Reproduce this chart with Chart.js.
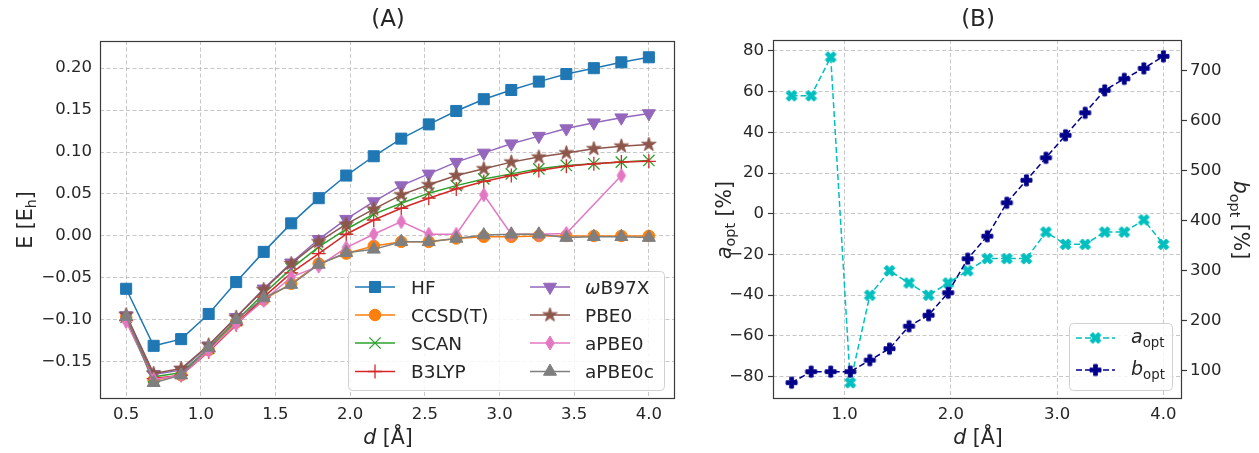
<!DOCTYPE html>
<html><head><meta charset="utf-8">
<script src="https://cdn.jsdelivr.net/npm/chart.js@4/dist/chart.umd.min.js"></script>
<style>
html,body{margin:0;padding:0;background:#fff;}
#wrap{position:relative;width:1259px;height:453px;background:#fff;}
#c1{position:absolute;left:0;top:0;}
#c2{position:absolute;left:700px;top:0;}
</style></head><body>
<div id="wrap"><canvas id="c1" width="700" height="453"></canvas><canvas id="c2" width="559" height="453"></canvas></div>
<script>
// ---------------- data ----------------
const distances = [0.5, 0.6842, 0.8684, 1.0526, 1.2368, 1.4211, 1.6053, 1.7895, 1.9737, 2.1579, 2.3421, 2.5263, 2.7105, 2.8947, 3.0789, 3.2632, 3.4474, 3.6316, 3.8158, 4.0];
const methodNames = ['HF', 'CCSD(T)', 'SCAN', 'B3LYP', 'ωB97X', 'PBE0', 'aPBE0', 'aPBE0c'];
const energyHF     = [-0.063, -0.131, -0.123, -0.093, -0.055, -0.019, 0.015, 0.045, 0.072, 0.095, 0.116, 0.133, 0.149, 0.163, 0.174, 0.184, 0.193, 0.200, 0.207, 0.213];
const energyCCSDT  = [-0.097, -0.172, -0.166, -0.136, -0.103, -0.076, -0.057, -0.033, -0.021, -0.012, -0.007, -0.007, -0.003, -0.001, -0.001, 0.000, 0.000, 0.000, 0.000, 0.000];
const energySCAN   = [-0.097, -0.168, -0.163, -0.134, -0.101, -0.069, -0.039, -0.013, 0.008, 0.026, 0.039, 0.051, 0.060, 0.068, 0.074, 0.080, 0.084, 0.086, 0.088, 0.090];
const energyB3LYP  = [-0.101, -0.170, -0.166, -0.138, -0.106, -0.073, -0.044, -0.021, 0.002, 0.019, 0.033, 0.045, 0.056, 0.065, 0.072, 0.078, 0.083, 0.086, 0.088, 0.089];
const energyWB97X  = [-0.095, -0.165, -0.160, -0.131, -0.097, -0.063, -0.032, -0.004, 0.020, 0.041, 0.060, 0.074, 0.088, 0.099, 0.110, 0.119, 0.128, 0.135, 0.141, 0.146];
const energyPBE0   = [-0.094, -0.164, -0.158, -0.130, -0.097, -0.064, -0.033, -0.007, 0.014, 0.032, 0.049, 0.061, 0.072, 0.080, 0.088, 0.094, 0.099, 0.104, 0.107, 0.109];
const energyAPBE0  = [-0.102, -0.171, -0.166, -0.137, -0.105, -0.077, -0.049, -0.036, -0.014, 0.002, 0.017, 0.002, 0.002, 0.049, 0.002, 0.002, 0.003, null, 0.072, null];
const energyAPBE0c = [-0.096, -0.175, -0.166, -0.133, -0.100, -0.074, -0.058, -0.034, -0.020, -0.016, -0.007, -0.007, -0.003, 0.001, 0.002, 0.002, -0.002, -0.001, -0.001, -0.002];
const aOpt = [58, 58, 77, -83, -40, -28, -34, -40, -34, -28, -22, -22, -22, -9, -15, -15, -9, -9, -3, -15];
const bOpt = [76, 98, 98, 98, 121, 144, 189, 211, 256, 324, 369, 436, 481, 526, 571, 616, 661, 684, 705, 729];

const xTicksA = [0.5, 1.0, 1.5, 2.0, 2.5, 3.0, 3.5, 4.0];
const xLabelsA = ['0.5', '1.0', '1.5', '2.0', '2.5', '3.0', '3.5', '4.0'];
const yTicksA = [-0.15, -0.10, -0.05, 0.00, 0.05, 0.10, 0.15, 0.20];
const yLabelsA = ['\u22120.15', '\u22120.10', '\u22120.05', '0.00', '0.05', '0.10', '0.15', '0.20'];
const xTicksB = [1.0, 2.0, 3.0, 4.0];
const xLabelsB = ['1.0', '2.0', '3.0', '4.0'];
const aTicks = [-80, -60, -40, -20, 0, 20, 40, 60, 80];
const aLabels = ['\u221280', '\u221260', '\u221240', '\u221220', '0', '20', '40', '60', '80'];
const bTicks = [100, 200, 300, 400, 500, 600, 700];
const bLabels = ['100', '200', '300', '400', '500', '600', '700'];

// ---------------- styles ----------------
const FONT = '"DejaVu Sans", sans-serif';
const TXT = '#262626';
const SPINE = '#3a3a3a';
const GRID = 'rgba(180,180,180,0.75)';
const colors = ['#1f77b4', '#ff7f0e', '#2ca02c', '#d62728', '#9467bd', '#8c564b', '#e377c2', '#7f7f7f'];
const cA = '#00bfbf', cB = '#00008b';

function mkCanvas(size) { const c = document.createElement('canvas'); c.width = size; c.height = size; return c; }
function polyImg(pts, scale, color) {
  const s = Math.ceil(scale + 4); const c = mkCanvas(s); const g = c.getContext('2d');
  g.translate(s / 2, s / 2); g.beginPath();
  pts.forEach((p, i) => { const x = p[0] * scale, y = p[1] * scale; i ? g.lineTo(x, y) : g.moveTo(x, y); });
  g.closePath(); g.fillStyle = color; g.fill(); g.strokeStyle = color; g.lineWidth = 1; g.lineJoin = 'miter'; g.stroke();
  return c;
}
function starPts() { const p = []; for (let i = 0; i < 10; i++) { const r = i % 2 ? 0.5 * 0.381966 : 0.5; const a = -Math.PI / 2 + i * Math.PI / 5; p.push([r * Math.cos(a), r * Math.sin(a)]); } return p; }
const starImg = polyImg(starPts(), 15, colors[5]);
const diamondImg = polyImg([[0, -0.5], [0.3, 0], [0, 0.5], [-0.3, 0]], 14, colors[6]);
const xFilled = [[-1, -2], [0, -1], [1, -2], [2, -1], [1, 0], [2, 1], [1, 2], [0, 1], [-1, 2], [-2, 1], [-1, 0], [-2, -1]].map(p => [p[0] / 4, p[1] / 4]);
const pFilled = [[-1, -3], [1, -3], [1, -1], [3, -1], [3, 1], [1, 1], [1, 3], [-1, 3], [-1, 1], [-3, 1], [-3, -1], [-1, -1]].map(p => [p[0] / 6, p[1] / 6]);
const xImg = polyImg(xFilled, 11, cA);
const pImg = polyImg(pFilled, 11, cB);

const markers = [
  {pointStyle: 'rect', radius: 7.8, rotation: 0, borderWidth: 1},
  {pointStyle: 'circle', radius: 5.8, rotation: 0, borderWidth: 1},
  {pointStyle: 'crossRot', radius: 8, rotation: 0, borderWidth: 1.3},
  {pointStyle: 'cross', radius: 7, rotation: 0, borderWidth: 1.3},
  {pointStyle: 'triangle', radius: 7.5, rotation: 180, borderWidth: 1},
  {pointStyle: starImg, radius: 7, rotation: 0, borderWidth: 0},
  {pointStyle: diamondImg, radius: 7, rotation: 0, borderWidth: 0},
  {pointStyle: 'triangle', radius: 7.5, rotation: 0, borderWidth: 1}
];
const energySeries = [energyHF, energyCCSDT, energySCAN, energyB3LYP, energyWB97X, energyPBE0, energyAPBE0, energyAPBE0c];

// rich text helper
function richText(ctx, parts, x, y, rot, size, align) {
  ctx.save(); ctx.translate(x, y); ctx.rotate(rot);
  let w = 0;
  const info = parts.map(p => {
    const fs = p.sub ? size * 0.7 : size;
    const f = (p.it ? 'italic ' : '') + fs + 'px ' + FONT;
    ctx.font = f; const mw = ctx.measureText(p.t).width; w += mw; return {f, mw};
  });
  let cx = align === 'left' ? 0 : -w / 2;
  ctx.fillStyle = TXT; ctx.textBaseline = 'alphabetic'; ctx.textAlign = 'left';
  const base = size * 0.36;
  parts.forEach((p, i) => { ctx.font = info[i].f; ctx.fillText(p.t, cx, base + (p.sub ? size * 0.2 : 0)); cx += info[i].mw; });
  ctx.restore();
}

function setTicks(vals) { return function (scale) { scale.ticks = vals.map(v => ({value: v})); }; }

const framePlugin = {
  id: 'frame',
  afterDraw(chart, args, opts) {
    const ctx = chart.ctx; const a = chart.chartArea;
    ctx.save(); ctx.strokeStyle = SPINE; ctx.lineWidth = 1.2;
    ctx.strokeRect(Math.round(a.left) + 0.5, Math.round(a.top) + 0.5, Math.round(a.right - a.left) - 1, Math.round(a.bottom - a.top) - 1);
    ctx.restore();
    if (opts.draw) opts.draw(ctx, chart);
  }
};

function drawLegendBox(ctx, x0, y0, x1, y1) {
  ctx.save();
  ctx.beginPath();
  if (ctx.roundRect) ctx.roundRect(x0 + 0.5, y0 + 0.5, x1 - x0, y1 - y0, 4); else ctx.rect(x0 + 0.5, y0 + 0.5, x1 - x0, y1 - y0);
  ctx.fillStyle = 'rgba(255,255,255,0.85)'; ctx.fill();
  ctx.strokeStyle = '#d0d0d0'; ctx.lineWidth = 1; ctx.stroke();
  ctx.restore();
}
function drawSample(ctx, color, mk, xl, xr, y, dash) {
  ctx.save();
  ctx.strokeStyle = color; ctx.lineWidth = 1.5; if (dash) ctx.setLineDash(dash);
  ctx.beginPath(); ctx.moveTo(xl, y); ctx.lineTo(xr, y); ctx.stroke();
  ctx.setLineDash([]);
  ctx.fillStyle = color; ctx.strokeStyle = color; ctx.lineWidth = mk.borderWidth || 1;
  Chart.helpers.drawPoint(ctx, mk, (xl + xr) / 2, y);
  ctx.restore();
}

// ---------------- chart A ----------------
const datasetsA = energySeries.map((vals, i) => ({
  label: methodNames[i],
  data: distances.map((d, k) => ({x: d, y: vals[k]})),
  borderColor: colors[i], backgroundColor: colors[i],
  pointBackgroundColor: colors[i], pointBorderColor: colors[i],
  borderWidth: 1.5,
  pointStyle: markers[i].pointStyle, pointRadius: markers[i].radius,
  pointRotation: markers[i].rotation, pointBorderWidth: markers[i].borderWidth,
  tension: 0, spanGaps: true, order: energySeries.length - i
}));

new Chart(document.getElementById('c1'), {
  type: 'line',
  data: {datasets: datasetsA},
  options: {
    responsive: false, animation: false, devicePixelRatio: 1, events: [],
    layout: {padding: {left: 0, right: 25, top: 41, bottom: 0}},
    plugins: {
      legend: {display: false}, tooltip: {enabled: false}, title: {display: false},
      frame: {
        draw(ctx, chart) {
          richText(ctx, [{t: '(A)'}], 388, 18, 0, 23);
          richText(ctx, [{t: 'E [E'}, {t: 'h', sub: true}, {t: ']'}], 25, 220, -Math.PI / 2, 20.5);
          richText(ctx, [{t: 'd', it: true}, {t: ' [Å]'}], 388, 437, 0, 20.5);
          drawLegendBox(ctx, 348, 271, 664, 390);
          const rows = [287, 315, 343, 371.5];
          for (let i = 0; i < 8; i++) {
            const col = i < 4 ? 0 : 1; const r = rows[i % 4];
            const xl = col ? 530 : 355, xr = col ? 570 : 395, tx = col ? 585 : 411;
            drawSample(ctx, colors[i], markers[i], xl, xr, r, null);
            const parts = i === 4 ? [{t: 'ω', it: true}, {t: 'B97X'}] : [{t: methodNames[i]}];
            richText(ctx, parts, tx, r, 0, 18.5, 'left');
          }
        }
      }
    },
    scales: {
      x: {
        type: 'linear', min: 0.325, max: 4.175,
        afterBuildTicks: setTicks(xTicksA),
        afterFit(s) { s.height = 54; },
        ticks: {autoSkip: false, maxRotation: 0, padding: 6, color: TXT, font: {family: FONT, size: 16.5}, callback: (v, i) => xLabelsA[i]},
        grid: {color: GRID, lineWidth: 1, drawTicks: false},
        border: {display: false, dash: [4, 2.5]}
      },
      y: {
        type: 'linear', min: -0.1944, max: 0.2324,
        afterBuildTicks: setTicks(yTicksA),
        afterFit(s) { s.width = 100; },
        ticks: {autoSkip: false, padding: 8, color: TXT, font: {family: FONT, size: 16.5}, callback: (v, i) => yLabelsA[i]},
        grid: {color: GRID, lineWidth: 1, drawTicks: false},
        border: {display: false, dash: [4, 2.5]}
      }
    }
  },
  plugins: [framePlugin]
});

// ---------------- chart B ----------------
const mkA = {pointStyle: xImg, radius: 6, rotation: 0, borderWidth: 0};
const mkB = {pointStyle: pImg, radius: 6, rotation: 0, borderWidth: 0};
new Chart(document.getElementById('c2'), {
  type: 'line',
  data: {
    datasets: [
      {label: 'a_opt', yAxisID: 'yA', data: distances.map((d, k) => ({x: d, y: aOpt[k]})),
        borderColor: cA, backgroundColor: cA, borderWidth: 1.5, borderDash: [6, 3],
        pointStyle: xImg, pointRadius: 6, tension: 0, order: 2},
      {label: 'b_opt', yAxisID: 'yB', data: distances.map((d, k) => ({x: d, y: bOpt[k]})),
        borderColor: cB, backgroundColor: cB, borderWidth: 1.5, borderDash: [6, 3],
        pointStyle: pImg, pointRadius: 6, tension: 0, order: 1}
    ]
  },
  options: {
    responsive: false, animation: false, devicePixelRatio: 1, events: [],
    layout: {padding: {left: 0, right: 0, top: 40, bottom: 0}},
    plugins: {
      legend: {display: false}, tooltip: {enabled: false}, title: {display: false},
      frame: {
        draw(ctx, chart) {
          richText(ctx, [{t: '(B)'}], 278, 18, 0, 23);
          richText(ctx, [{t: 'a', it: true}, {t: 'opt', sub: true}, {t: ' [%]'}], 24, 220, -Math.PI / 2, 20.5);
          richText(ctx, [{t: 'b', it: true}, {t: 'opt', sub: true}, {t: ' [%]'}], 541, 220, Math.PI / 2, 20.5);
          richText(ctx, [{t: 'd', it: true}, {t: ' [Å]'}], 278, 437, 0, 20.5);
          drawLegendBox(ctx, 369, 323, 472, 390);
          drawSample(ctx, cA, mkA, 376, 415, 338, [6, 3]);
          drawSample(ctx, cB, mkB, 376, 415, 370, [6, 3]);
          richText(ctx, [{t: 'a', it: true}, {t: 'opt', sub: true}], 431, 336, 0, 19, 'left');
          richText(ctx, [{t: 'b', it: true}, {t: 'opt', sub: true}], 431, 368, 0, 19, 'left');
        }
      }
    },
    scales: {
      x: {
        type: 'linear', min: 0.325, max: 4.175,
        afterBuildTicks: setTicks(xTicksB),
        afterFit(s) { s.height = 54; },
        ticks: {autoSkip: false, maxRotation: 0, padding: 6, color: TXT, font: {family: FONT, size: 16.5}, callback: (v, i) => xLabelsB[i]},
        grid: {color: GRID, lineWidth: 1, drawTicks: false},
        border: {display: false, dash: [4, 2.5]}
      },
      yA: {
        type: 'linear', position: 'left', min: -91, max: 85.4,
        afterBuildTicks: setTicks(aTicks),
        afterFit(s) { s.width = 73; },
        ticks: {autoSkip: false, padding: 4, color: TXT, font: {family: FONT, size: 16.5}, callback: (v, i) => aLabels[i]},
        grid: {color: GRID, lineWidth: 1, drawTicks: true, tickLength: 5, tickColor: SPINE, tickWidth: 1.2},
        border: {display: false, dash: [4, 2.5]}
      },
      yB: {
        type: 'linear', position: 'right', min: 43.3, max: 761.7,
        afterBuildTicks: setTicks(bTicks),
        afterFit(s) { s.width = 77; },
        ticks: {autoSkip: false, padding: 3, color: TXT, font: {family: FONT, size: 16.5}, callback: (v, i) => bLabels[i]},
        grid: {display: true, drawOnChartArea: false, drawTicks: true, tickLength: 5, tickColor: SPINE, tickWidth: 1.2},
        border: {display: false}
      }
    }
  },
  plugins: [framePlugin]
});
</script>
</body></html>
